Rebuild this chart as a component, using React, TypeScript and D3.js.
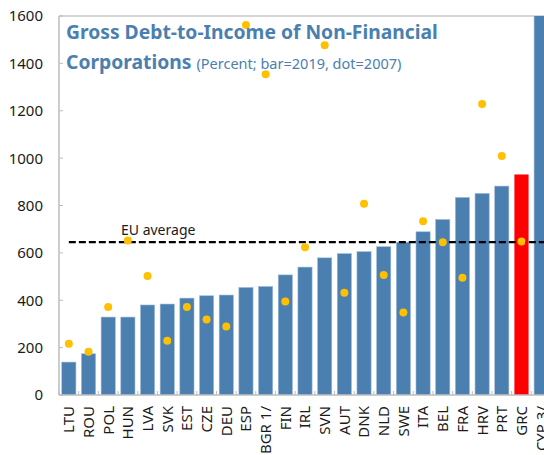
import React from 'react';
import * as d3 from 'd3';

const countries = [
  'LTU', 'ROU', 'POL', 'HUN', 'LVA', 'SVK', 'EST', 'CZE', 'DEU', 'ESP', 'BGR 1/', 'FIN', 'IRL',
  'SVN', 'AUT', 'DNK', 'NLD', 'SWE', 'ITA', 'BEL', 'FRA', 'HRV', 'PRT', 'GRC', 'CYP 3/',
];
const debt2019 = [
  139, 174, 329, 329, 380, 384, 409, 419, 422, 454, 458, 507, 540,
  579, 597, 605, 626, 645, 689, 741, 834, 851, 882, 931, 1700,
];
const debt2007: (number | null)[] = [
  216, 183, 371, 652, 502, 229, 371, 319, 289, 1562, 1354, 395, 624,
  1477, 432, 807, 507, 348, 734, 645, 495, 1228, 1009, 648, null,
];
const euAverage = 645;
const yTicks = [0, 200, 400, 600, 800, 1000, 1200, 1400, 1600];

const W = 544;
const H = 455;
const left = 59;
const right = 551;
const top = 16;
const bottom = 395;

const blue = '#4a7fb0';
const font = 'Noto Sans, sans-serif';

export default function App() {
  const x = d3.scaleBand<string>().domain(countries).range([left, right]).paddingInner(0.28).paddingOuter(0.14);
  const y = d3.scaleLinear().domain([0, 1600]).range([bottom, top]);
  const step = x.step();

  return (
    <svg width={W} height={H} style={{ position: 'absolute', left: 0, top: 0 }} fontFamily={font}>
      <defs>
        <clipPath id="plot">
          <rect x={left} y={top} width={right - left} height={bottom - top} />
        </clipPath>
      </defs>

      {/* frame */}
      <line x1={left} x2={W} y1={top} y2={top} stroke="#c8c8c8" strokeWidth={1.5} />
      <line x1={left} x2={left} y1={top} y2={bottom} stroke="#bdbdbd" strokeWidth={1.5} />

      {/* y axis */}
      {yTicks.map((t) => (
        <g key={t}>
          <line x1={left} x2={left + 4} y1={y(t)} y2={y(t)} stroke="#bdbdbd" strokeWidth={1} />
          <text x={43} y={y(t)} dy="0.36em" textAnchor="end" fontSize={15} fill="#1a1a1a">
            {t}
          </text>
        </g>
      ))}

      {/* bars */}
      <g clipPath="url(#plot)">
        {countries.map((c, i) => (
          <rect
            key={c}
            x={x(c)!}
            y={y(debt2019[i])}
            width={x.bandwidth()}
            height={bottom - y(debt2019[i])}
            fill={c === 'GRC' ? '#ff0000' : blue}
            stroke={c === 'GRC' ? 'none' : '#9dbbd9'}
            strokeWidth={0.6}
          />
        ))}
      </g>

      {/* x axis */}
      <line x1={left} x2={W} y1={bottom} y2={bottom} stroke="#bdbdbd" strokeWidth={1.5} />
      {countries.map((c) => (
        <line
          key={'t' + c}
          x1={x(c)! - (step - x.bandwidth()) / 2}
          x2={x(c)! - (step - x.bandwidth()) / 2}
          y1={bottom}
          y2={bottom - 4}
          stroke="#bdbdbd"
          strokeWidth={1}
        />
      ))}
      {countries.map((c) => (
        <text
          key={'l' + c}
          transform={`translate(${x(c)! + x.bandwidth() / 2},${bottom + 11}) rotate(-90)`}
          dy="0.36em"
          textAnchor="end"
          fontSize={15}
          fill="#1a1a1a"
        >
          {c}
        </text>
      ))}

      {/* EU average */}
      <line
        x1={x('LTU')! + x.bandwidth() / 2}
        x2={W}
        y1={y(euAverage)}
        y2={y(euAverage)}
        stroke="#000"
        strokeWidth={2.2}
        strokeDasharray="7,3"
      />
      <text x={121} y={y(euAverage) - 7} fontSize={14} fill="#1a1a1a">
        EU average
      </text>

      {/* dots */}
      {countries.map((c, i) =>
        debt2007[i] == null ? null : (
          <circle key={'d' + c} cx={x(c)! + x.bandwidth() / 2} cy={y(debt2007[i] as number)} r={4} fill="#ffc000" />
        )
      )}

      {/* title */}
      <text x={66} y={39} fontSize={19.3} fontWeight="bold" fill={blue}>
        Gross Debt-to-Income of Non-Financial
      </text>
      <text x={66} y={69} fill={blue}>
        <tspan fontSize={19.3} fontWeight="bold">Corporations</tspan>
        <tspan fontSize={14.5} dx={5}>(Percent; bar=2019, dot=2007)</tspan>
      </text>
    </svg>
  );
}
